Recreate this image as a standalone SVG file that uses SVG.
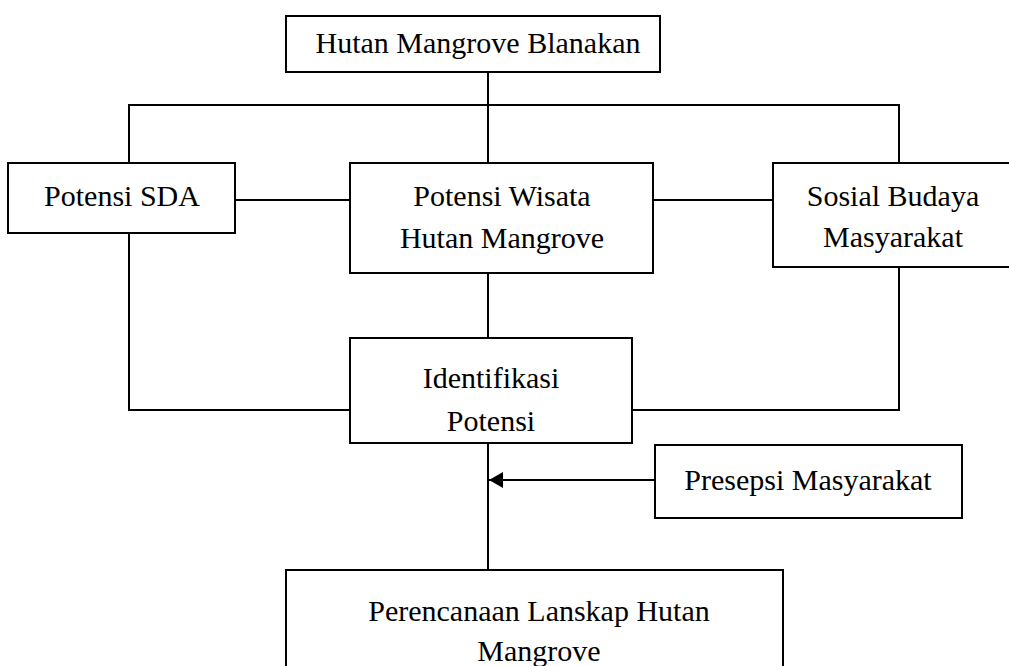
<svg xmlns="http://www.w3.org/2000/svg" width="1009" height="666" viewBox="0 0 1009 666">
<defs>
<style>
.box{fill:#fff;stroke:#000;stroke-width:2}
.ln{fill:none;stroke:#000;stroke-width:2}
.t{font-family:"Liberation Serif","Times New Roman",serif;font-size:30px;fill:#000;text-anchor:middle}
</style>
<marker id="ah" markerWidth="14" markerHeight="16" refX="14" refY="8" orient="auto" markerUnits="userSpaceOnUse">
<path d="M0,0 L14,8 L0,16 z" fill="#000"/>
</marker>
</defs>
<rect width="1009" height="666" fill="#fff"/>
<g id="connectors">
<path class="ln" d="M488,72 V105"/>
<path class="ln" d="M129,163 V105 H899 V163"/>
<path class="ln" d="M488,105 V163"/>
<path class="ln" d="M235,200 H350"/>
<path class="ln" d="M653,200 H773"/>
<path class="ln" d="M129,233 V410 H350"/>
<path class="ln" d="M899,267 V410 H632"/>
<path class="ln" d="M488,273 V338"/>
<path class="ln" d="M488,443 V570"/>
<path class="ln" d="M655,480 H489" stroke-width="2.5" marker-end="url(#ah)"/>
</g>
<g id="n-top">
<rect class="box" x="286" y="16" width="374" height="56"/>
<text class="t" x="478" y="53">Hutan Mangrove Blanakan</text>
</g>
<g id="n-sda">
<rect class="box" x="8" y="163" width="227" height="70"/>
<text class="t" x="122" y="206">Potensi SDA</text>
</g>
<g id="n-wisata">
<rect class="box" x="350" y="163" width="303" height="110"/>
<text class="t" x="502" y="206">Potensi Wisata</text>
<text class="t" x="502" y="248">Hutan Mangrove</text>
</g>
<g id="n-sosial">
<rect class="box" x="773" y="163" width="245" height="104"/>
<text class="t" x="893" y="206">Sosial Budaya</text>
<text class="t" x="893" y="247">Masyarakat</text>
</g>
<g id="n-identifikasi">
<rect class="box" x="350" y="338" width="282" height="105"/>
<text class="t" x="491" y="388">Identifikasi</text>
<text class="t" x="491" y="431">Potensi</text>
</g>
<g id="n-presepsi">
<rect class="box" x="655" y="445" width="307" height="73"/>
<text class="t" x="808" y="490">Presepsi Masyarakat</text>
</g>
<g id="n-perencanaan">
<rect class="box" x="286" y="570" width="497" height="110"/>
<text class="t" x="539" y="621">Perencanaan Lanskap Hutan</text>
<text class="t" x="539" y="661">Mangrove</text>
</g>
</svg>
